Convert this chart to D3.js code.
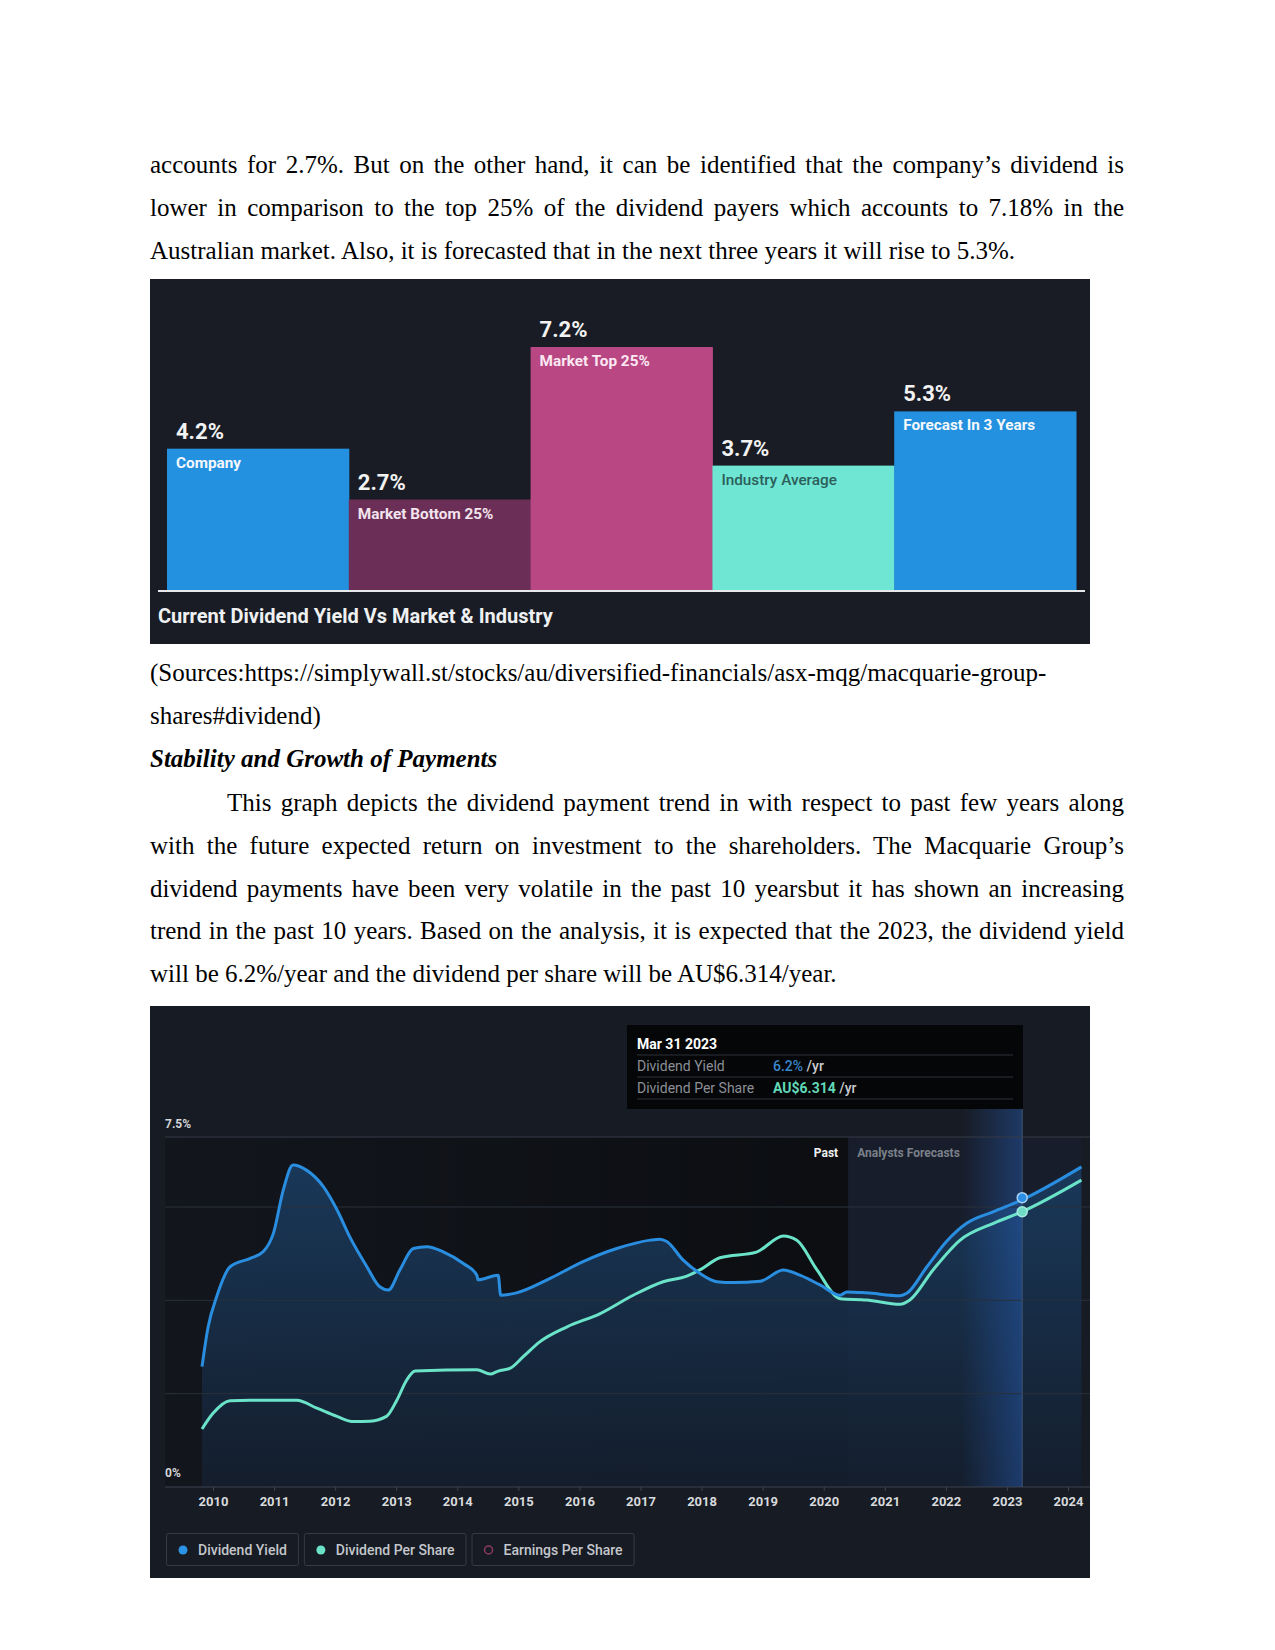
<!DOCTYPE html>
<html><head><meta charset="utf-8">
<script src="https://cdn.jsdelivr.net/npm/d3@7"></script>
<style>html,body{margin:0;padding:0;background:#fff;} svg{display:block;}</style>
</head><body><svg id="page" width="1275" height="1650"></svg>
<script>
// ---------------- Data ----------------
const para1Lines = [
  "accounts for 2.7%. But on the other hand, it can be identified that the company\u2019s dividend is",
  "lower in comparison to the top 25% of the dividend payers which accounts to 7.18% in the",
  "Australian market. Also, it is forecasted that in the next three years it will rise to 5.3%."
];
const sourceLines = [
  "(Sources:https://simplywall.st/stocks/au/diversified-financials/asx-mqg/macquarie-group-",
  "shares#dividend)"
];
const headingText = "Stability and Growth of Payments";
const para2Lines = [
  "This graph depicts the dividend payment trend in with respect to past few years along",
  "with the future expected return on investment to the shareholders. The Macquarie Group\u2019s",
  "dividend payments have been very volatile in the past 10 yearsbut it has shown an increasing",
  "trend in the past 10 years. Based on the analysis, it is expected that the 2023, the dividend yield",
  "will be 6.2%/year and the dividend per share will be AU$6.314/year."
];

const barCategories = ["Company", "Market Bottom 25%", "Market Top 25%", "Industry Average", "Forecast In 3 Years"];
const barValues = [4.2, 2.7, 7.2, 3.7, 5.3];
const barValueLabels = ["4.2%", "2.7%", "7.2%", "3.7%", "5.3%"];
const barColors = ["#2391df", "#6b2f57", "#b94784", "#6fe5d3", "#2391df"];
const barNameColors = ["#f4f8fc", "#f3e4ee", "#fbe8f2", "#2c5e5a", "#f4f8fc"];
const barTitle = "Current Dividend Yield Vs Market & Industry";

// Dividend Yield (%), by decimal year
const yieldDates = [2009.82, 2009.92, 2010.06, 2010.28, 2010.61, 2010.82, 2010.99, 2011.15, 2011.31, 2011.53,
  2011.81, 2012.03, 2012.24, 2012.52, 2012.73, 2012.87, 2013.06, 2013.28, 2013.50, 2013.77,
  2014.10, 2014.32, 2014.34, 2014.67, 2014.71, 2014.97, 2015.52, 2016.06, 2016.61, 2017.16,
  2017.32, 2017.43, 2017.70, 2017.97, 2018.25, 2018.52, 2018.96, 2019.34, 2019.61, 2019.94,
  2020.27, 2020.38, 2020.70, 2021.25, 2021.36, 2021.69, 2022.01, 2022.34, 2022.78, 2023.24, 2024.22];
const yieldValues = [2.58, 3.43, 4.08, 4.72, 4.90, 5.04, 5.44, 6.36, 6.90, 6.79,
  6.43, 5.94, 5.36, 4.72, 4.29, 4.22, 4.65, 5.11, 5.15, 5.04,
  4.79, 4.54, 4.44, 4.54, 4.11, 4.16, 4.47, 4.83, 5.11, 5.29,
  5.31, 5.26, 4.86, 4.58, 4.40, 4.38, 4.41, 4.65, 4.54, 4.33,
  4.11, 4.18, 4.16, 4.10, 4.15, 4.72, 5.26, 5.65, 5.90, 6.15, 6.86];

// Dividend Per Share (AU$), by decimal year
const dpsDates = [2009.82, 2010.00, 2010.28, 2010.61, 2011.37, 2011.70, 2012.03, 2012.30, 2012.57, 2012.84,
  2013.01, 2013.17, 2013.31, 2014.32, 2014.54, 2014.67, 2014.86, 2015.08, 2015.35, 2015.79,
  2016.34, 2016.88, 2017.37, 2017.76, 2017.97, 2018.30, 2018.90, 2019.34, 2019.56, 2019.89,
  2020.27, 2020.70, 2021.25, 2021.41, 2021.79, 2022.23, 2022.78, 2023.24, 2024.22];
const dpsValues = [1.33, 1.69, 1.98, 1.99, 1.99, 1.81, 1.62, 1.50, 1.51, 1.62,
  1.99, 2.45, 2.66, 2.69, 2.59, 2.66, 2.72, 2.99, 3.33, 3.67,
  3.98, 4.40, 4.71, 4.84, 4.98, 5.26, 5.39, 5.76, 5.66, 4.98,
  4.32, 4.29, 4.19, 4.29, 4.98, 5.66, 6.05, 6.31, 7.04];

const yearTicks = d3.range(2010, 2025);
const yieldGridValues = [2, 4, 6, 7.5];
const yieldAxisLabels = [7.5, 0];
const yieldMax = 7.5;
const dpsMax = 8.03;
const pastEnd = 2020.4;
const markerDate = 2023.25;
const markerLabel = "Mar 31 2023";
const markerYield = 6.2;
const markerDps = 6.314;
const tooltipRows = [
  {name: "Dividend Yield", value: "6.2%", unit: " /yr", color: "#3a86cc", weight: 500},
  {name: "Dividend Per Share", value: "AU$6.314", unit: " /yr", color: "#62d8b8", weight: 700}
];
const pastLabel = "Past", forecastLabel = "Analysts Forecasts";
const legendItems = [
  {name: "Dividend Yield", color: "#2a93e6", hollow: false},
  {name: "Dividend Per Share", color: "#6be3c9", hollow: false},
  {name: "Earnings Per Share", color: "#8c3a66", hollow: true}
];

// ---------------- Page ----------------
const svg = d3.select("#page");
const serif = "'Liberation Serif','Times New Roman',serif";
const sans = "Roboto,'Noto Sans',Arial,sans-serif";
const textLeft = 150, textRight = 1124;

function writeLine(str, x, y, justify, opts = {}) {
  const t = svg.append("text").attr("x", x).attr("y", y)
    .attr("font-family", serif).attr("font-size", 25).attr("fill", "#000")
    .attr("font-weight", opts.weight || 400).attr("font-style", opts.style || "normal")
    .text(str);
  if (justify) {
    const w = t.node().getComputedTextLength();
    const n = (str.match(/ /g) || []).length;
    if (n > 0) t.attr("word-spacing", ((textRight - x) - w) / n);
  }
}
para1Lines.forEach((l, i) => writeLine(l, textLeft, 173 + i * 42.8, i < para1Lines.length - 1));
sourceLines.forEach((l, i) => writeLine(l, textLeft, 681 + i * 42.5, false));
writeLine(headingText, textLeft, 767, false, {weight: 700, style: "italic"});
para2Lines.forEach((l, i) => writeLine(l, i === 0 ? 227 : textLeft, 811 + i * 42.8, i < para2Lines.length - 1));

// ---------------- Bar chart ----------------
const bc = svg.append("g");
bc.append("rect").attr("x", 150).attr("y", 279).attr("width", 940).attr("height", 365).attr("fill", "#191c24");
const bx = d3.scaleBand().domain(barCategories).range([167, 1076]).padding(0);
const by = d3.scaleLinear().domain([0, 7.2]).range([591, 347]);
barCategories.forEach((c, i) => {
  const x0 = bx(c), top = by(barValues[i]);
  bc.append("rect").attr("x", x0).attr("y", top).attr("width", bx.bandwidth() + 0.5)
    .attr("height", by(0) - top).attr("fill", barColors[i]);
  bc.append("text").attr("x", x0 + 9).attr("y", top - 10).attr("font-family", sans)
    .attr("font-size", 22).attr("font-weight", 700).attr("fill", "#f2f2f2").text(barValueLabels[i]);
  bc.append("text").attr("x", x0 + 9).attr("y", top + 19).attr("font-family", sans)
    .attr("font-size", 15.3).attr("font-weight", i === 3 ? 500 : 700).attr("fill", barNameColors[i]).text(c);
});
bc.append("line").attr("x1", 158).attr("x2", 1085).attr("y1", by(0)).attr("y2", by(0))
  .attr("stroke", "#e6e8ec").attr("stroke-width", 2);
bc.append("text").attr("x", 158).attr("y", 623).attr("font-family", sans).attr("font-size", 20)
  .attr("font-weight", 700).attr("fill", "#eef0f2").text(barTitle);

// ---------------- Line chart ----------------
const lc = svg.append("g");
const defs = svg.append("defs");
lc.append("rect").attr("x", 150).attr("y", 1006).attr("width", 940).attr("height", 572).attr("fill", "#171b23");

const x = d3.scaleLinear().domain([2010, 2024]).range([213, 1068]);
const yY = d3.scaleLinear().domain([0, yieldMax]).range([1487, 1137]);
const yD = d3.scaleLinear().domain([0, dpsMax]).range([1487, 1137]);
const plotL = 165, plotR = 1090, dataR = x(d3.max(yieldDates));

// past darkening gradient
const gPast = defs.append("linearGradient").attr("id", "gPast").attr("gradientUnits", "userSpaceOnUse")
  .attr("x1", plotL).attr("x2", x(pastEnd)).attr("y1", 0).attr("y2", 0);
gPast.append("stop").attr("offset", 0).attr("stop-color", "#000").attr("stop-opacity", 0.2);
gPast.append("stop").attr("offset", 1).attr("stop-color", "#000").attr("stop-opacity", 0.5);
lc.append("rect").attr("x", plotL).attr("y", yY(yieldMax)).attr("width", x(pastEnd) - plotL)
  .attr("height", yY(0) - yY(yieldMax)).attr("fill", "url(#gPast)");
lc.append("rect").attr("x", x(pastEnd)).attr("y", yY(yieldMax)).attr("width", dataR - x(pastEnd))
  .attr("height", yY(0) - yY(yieldMax)).attr("fill", "#171d2a");

// area under yield
const gArea = defs.append("linearGradient").attr("id", "gArea").attr("gradientUnits", "userSpaceOnUse")
  .attr("x1", 0).attr("x2", 0).attr("y1", yY(yieldMax)).attr("y2", yY(0));
gArea.append("stop").attr("offset", 0).attr("stop-color", "#1a3d62");
gArea.append("stop").attr("offset", 1).attr("stop-color", "#141e2d");
const yieldPts = yieldDates.map((d, i) => [d, yieldValues[i]]);
const dpsPts = dpsDates.map((d, i) => [d, dpsValues[i]]);
lc.append("path").datum(yieldPts)
  .attr("d", d3.area().x(d => x(d[0])).y0(yY(0)).y1(d => yY(d[1])).curve(d3.curveMonotoneX))
  .attr("fill", "url(#gArea)").attr("opacity", 0.92);

// highlight band
const gBand = defs.append("linearGradient").attr("id", "gBand").attr("gradientUnits", "userSpaceOnUse")
  .attr("x1", x(markerDate - 1)).attr("x2", x(markerDate)).attr("y1", 0).attr("y2", 0);
gBand.append("stop").attr("offset", 0).attr("stop-color", "#2a6ad0").attr("stop-opacity", 0);
gBand.append("stop").attr("offset", 1).attr("stop-color", "#2a6ad0").attr("stop-opacity", 0.38);
lc.append("rect").attr("x", x(markerDate - 1)).attr("y", 1109).attr("width", x(markerDate) - x(markerDate - 1))
  .attr("height", yY(0) - 1109).attr("fill", "url(#gBand)");

// grid lines
yieldGridValues.forEach(v => {
  lc.append("line").attr("x1", plotL).attr("x2", plotR).attr("y1", yY(v)).attr("y2", yY(v))
    .attr("stroke", v === yieldMax ? "#363b46" : "#2a303b").attr("stroke-width", 1);
});
yieldAxisLabels.forEach(v => {
  lc.append("text").attr("x", plotL).attr("y", yY(v) - (v === 0 ? 10 : 9)).attr("font-family", sans)
    .attr("font-size", 12).attr("font-weight", 700).attr("fill", "#d3d5d8").text(d3.format("~g")(v) + "%");
});

// x axis
const xAxis = d3.axisBottom(x).tickValues(yearTicks).tickFormat(d3.format("d")).tickSize(4).tickPadding(6);
const ax = lc.append("g").attr("transform", `translate(0,${yY(0)})`).call(xAxis);
ax.select(".domain").remove();
ax.selectAll(".tick line").attr("stroke", "#3d4350");
ax.selectAll(".tick text").attr("font-family", sans).attr("font-size", 13).attr("font-weight", 700)
  .attr("fill", "#d8dadd");
lc.append("line").attr("x1", plotL).attr("x2", plotR).attr("y1", yY(0)).attr("y2", yY(0))
  .attr("stroke", "#3d4350").attr("stroke-width", 1.2);

// past / forecast labels
lc.append("text").attr("x", x(pastEnd) - 10).attr("y", 1157).attr("text-anchor", "end")
  .attr("font-family", sans).attr("font-size", 12).attr("font-weight", 700).attr("fill", "#f0f0f0").text(pastLabel);
lc.append("text").attr("x", x(pastEnd) + 9).attr("y", 1157)
  .attr("font-family", sans).attr("font-size", 12).attr("font-weight", 700).attr("fill", "#7b8089").text(forecastLabel);

// marker vertical line
lc.append("line").attr("x1", x(markerDate)).attr("x2", x(markerDate)).attr("y1", 1109).attr("y2", yY(0))
  .attr("stroke", "#3f5370").attr("stroke-width", 1);

// lines
lc.append("path").datum(dpsPts)
  .attr("d", d3.line().x(d => x(d[0])).y(d => yD(d[1])).curve(d3.curveMonotoneX))
  .attr("fill", "none").attr("stroke", "#6be3c9").attr("stroke-width", 3);
lc.append("path").datum(yieldPts)
  .attr("d", d3.line().x(d => x(d[0])).y(d => yY(d[1])).curve(d3.curveMonotoneX))
  .attr("fill", "none").attr("stroke", "#2a8ee0").attr("stroke-width", 3);

// markers
lc.append("circle").attr("cx", x(markerDate)).attr("cy", yY(markerYield)).attr("r", 5)
  .attr("fill", "#2d8fe3").attr("stroke", "#a9d2f3").attr("stroke-width", 1.5);
lc.append("circle").attr("cx", x(markerDate)).attr("cy", yD(markerDps)).attr("r", 5)
  .attr("fill", "#6fdcc6").attr("stroke", "#a7ece0").attr("stroke-width", 1.5);

// tooltip
const tt = lc.append("g");
tt.append("rect").attr("x", 627).attr("y", 1025).attr("width", 396).attr("height", 84).attr("fill", "#050608");
tt.append("text").attr("x", 637).attr("y", 1049).attr("font-family", sans).attr("font-size", 14)
  .attr("font-weight", 700).attr("fill", "#ffffff").text(markerLabel);
[1055, 1077, 1099].forEach(yy => tt.append("line").attr("x1", 637).attr("x2", 1013)
  .attr("y1", yy).attr("y2", yy).attr("stroke", "#2c3038").attr("stroke-width", 1));
tooltipRows.forEach((r, i) => {
  const yy = 1071 + i * 22;
  tt.append("text").attr("x", 637).attr("y", yy).attr("font-family", sans).attr("font-size", 14)
    .attr("fill", "#8b8f96").text(r.name);
  const t = tt.append("text").attr("x", 773).attr("y", yy).attr("font-family", sans).attr("font-size", 14);
  t.append("tspan").attr("fill", r.color).attr("font-weight", r.weight).text(r.value);
  t.append("tspan").attr("fill", "#c9cbd0").attr("font-weight", 500).text(r.unit);
});

// legend
let lx = 166;
legendItems.forEach(it => {
  const g = lc.append("g");
  const t = g.append("text").attr("x", lx + 32).attr("y", 1555).attr("font-family", sans).attr("font-size", 14)
    .attr("font-weight", 500).attr("fill", "#c4c7cc").text(it.name);
  const w = t.node().getComputedTextLength() + 43;
  g.insert("rect", "text").attr("x", lx + 0.5).attr("y", 1533.5).attr("width", w).attr("height", 32)
    .attr("rx", 2).attr("fill", "none").attr("stroke", "#363b45").attr("stroke-width", 1);
  g.append("circle").attr("cx", lx + 17).attr("cy", 1550).attr("r", it.hollow ? 4 : 4.5)
    .attr("fill", it.hollow ? "none" : it.color).attr("stroke", it.hollow ? it.color : "none").attr("stroke-width", 1.5);
  lx += w + 6;
});
</script></body></html>
